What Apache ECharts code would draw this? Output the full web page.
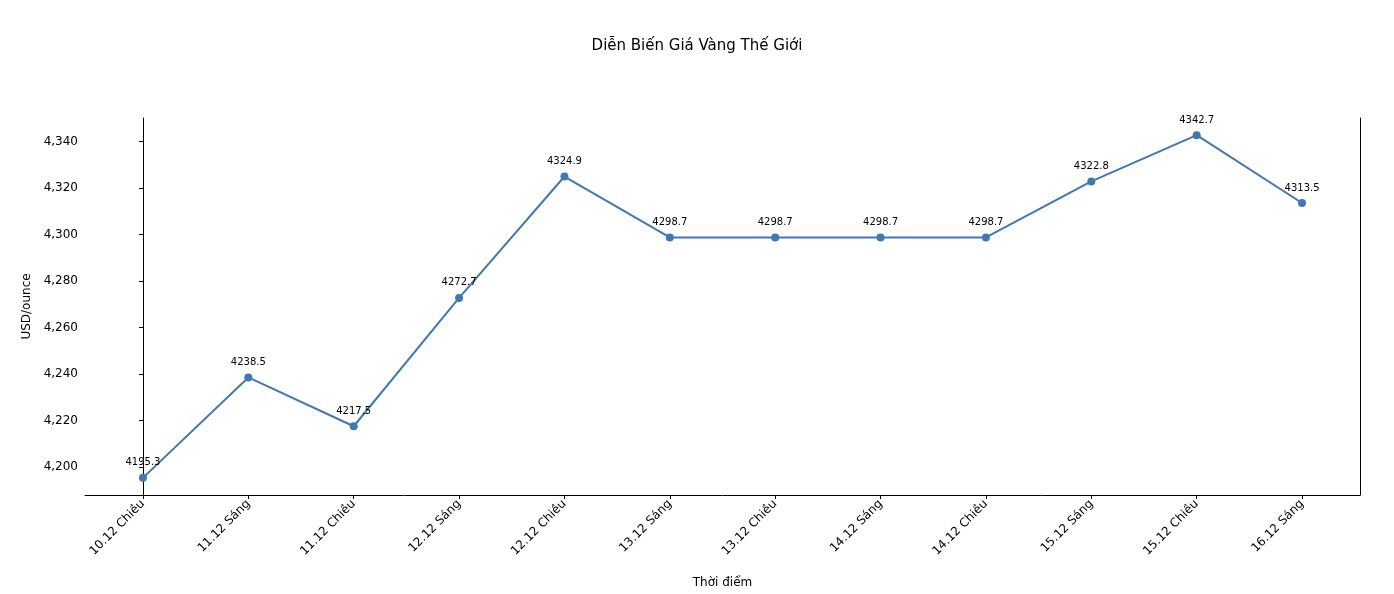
<!DOCTYPE html>
<html><head><meta charset="utf-8">
<script src="https://cdn.jsdelivr.net/npm/echarts@6/dist/echarts.min.js"></script>
<style>html,body{margin:0;padding:0;background:#fff}#c{width:1394px;height:594px}</style>
</head><body><div id="c"></div>
<script>
const categories = ["10.12 Chiều","11.12 Sáng","11.12 Chiều","12.12 Sáng","12.12 Chiều","13.12 Sáng","13.12 Chiều","14.12 Sáng","14.12 Chiều","15.12 Sáng","15.12 Chiều","16.12 Sáng"];
const prices = [4195.3,4238.5,4217.5,4272.7,4324.9,4298.7,4298.7,4298.7,4298.7,4322.8,4342.7,4313.5];
const yTicks = [4200,4220,4240,4260,4280,4300,4320,4340];
const idx = categories.map((_, i) => i);
const font = "DejaVu Sans";
const chart = echarts.init(document.getElementById('c'));
chart.setOption({
  animation: false,
  textStyle: {fontFamily: font},
  title: {text: "Diễn Biến Giá Vàng Thế Giới", left: 'center', top: 34, textStyle: {fontFamily: font, fontSize: 15, fontWeight: 'normal', color: '#000'}},
  grid: {left: 85, right: 34, top: 118, bottom: 99},
  xAxis: {
    type: 'value', min: -0.55, max: 11.55,
    name: "Thời điểm", nameLocation: 'middle', nameGap: 82,
    nameTextStyle: {fontFamily: font, fontSize: 12, color: '#000'},
    axisLine: {lineStyle: {color: '#000'}},
    axisTick: {customValues: idx, lineStyle: {color: '#000'}, length: 4},
    axisLabel: {customValues: idx, rotate: 45, fontFamily: font, fontSize: 12, color: '#000', margin: 7,
      formatter: v => categories[Math.round(v)] ?? ''},
    splitLine: {show: false}
  },
  yAxis: [{
    type: 'value', min: 4187.93, max: 4350.07,
    name: "USD/ounce", nameLocation: 'middle', nameGap: 50,
    nameTextStyle: {fontFamily: font, fontSize: 12, color: '#000'},
    axisLine: {show: true, lineStyle: {color: '#000'}},
    axisTick: {show: true, customValues: yTicks, length: 4, lineStyle: {color: '#000'}},
    axisLabel: {customValues: yTicks, fontFamily: font, fontSize: 12, color: '#000', margin: 7},
    splitLine: {show: false}
  }, {
    type: 'value', min: 4187.93, max: 4350.07, position: 'right',
    axisLine: {show: true, lineStyle: {color: '#000'}},
    axisTick: {show: false}, axisLabel: {show: false}, splitLine: {show: false}
  }],
  series: [{
    type: 'line',
    data: prices.map((p, i) => [i, p]),
    symbol: 'circle', symbolSize: 8,
    itemStyle: {color: '#4178b0'},
    lineStyle: {color: '#4178b0', width: 2},
    label: {show: true, position: 'top', distance: 6, fontFamily: font, fontSize: 10, color: '#000',
      formatter: p => p.value[1].toFixed(1)}
  }]
});
</script></body></html>
